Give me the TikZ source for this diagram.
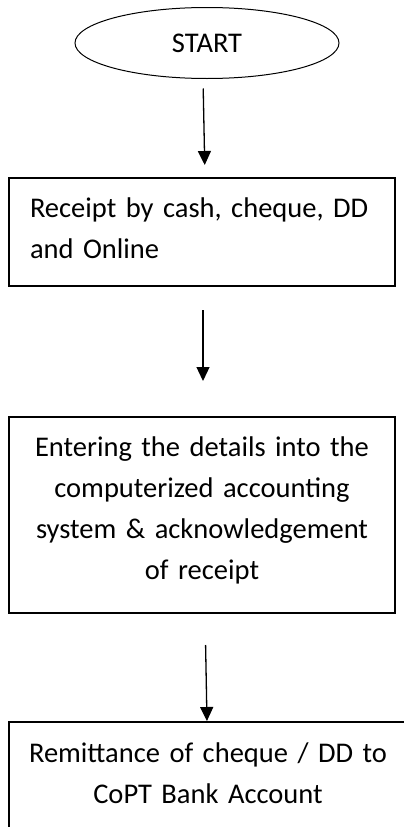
\documentclass[tikz,border=0pt]{standalone}
\usepackage{fontspec}
\setmainfont{Carlito}
\usepackage{xcolor}
\usetikzlibrary{shapes.geometric,arrows.meta,positioning}
\definecolor{flnoir}{HTML}{000000}
\definecolor{flfond}{HTML}{FFFFFF}

\begin{document}
\begin{tikzpicture}[x=1pt, y=-1pt,
    every node/.style={font=\fontsize{28.5}{41}\selectfont, text=flnoir},
    flstart/.style={ellipse, draw=flnoir, line width=1pt, minimum width=264pt,
      minimum height=71pt, inner sep=0pt, outer sep=0pt},
    flbox/.style={rectangle, draw=flnoir, line width=1.6pt, inner xsep=21pt,
      inner ysep=0pt, outer sep=0pt, anchor=north west},
    flarrow/.style={-{Triangle[length=14pt,width=13pt]}, flnoir, line width=1.3pt}]
  % Fond
  \fill[flfond] (0,0) rectangle (404,827);
  \useasboundingbox (0,0) rectangle (404,827);
  % Début
  \node[flstart] (start) at (207,43){START};
  % Réception
  \node[flbox, text width=344pt, align=left, text height=39pt, text depth=69pt]
    (receipt) at (9,178){Receipt by cash, cheque, DD\\and Online};
  % Saisie
  \node[flbox, text width=344pt, align=center, text height=39pt, text depth=157pt]
    (entry) at (9,417){Entering the details into the\\computerized accounting\\system \& acknowledgement\\of receipt};
  % Remise en banque
  \node[flbox, inner xsep=6pt, text width=386pt, align=center, text height=40pt, text depth=130pt]
    (remit) at (9,722){Remittance of cheque / DD to\\CoPT Bank Account};
  % Liaisons
  \draw[flarrow, shorten <=10pt, shorten >=13pt]
    ([xshift=-4pt]start.south) -- ([xshift=3pt]receipt.north);
  \draw[flarrow, shorten <=24pt, shorten >=36pt]
    ([xshift=1pt]receipt.south) -- ([xshift=1pt]entry.north);
  \draw[flarrow, shorten <=32pt, shorten >=1pt]
    ([xshift=3pt]entry.south) -- ([xshift=-1pt]remit.north);
\end{tikzpicture}
\end{document}
